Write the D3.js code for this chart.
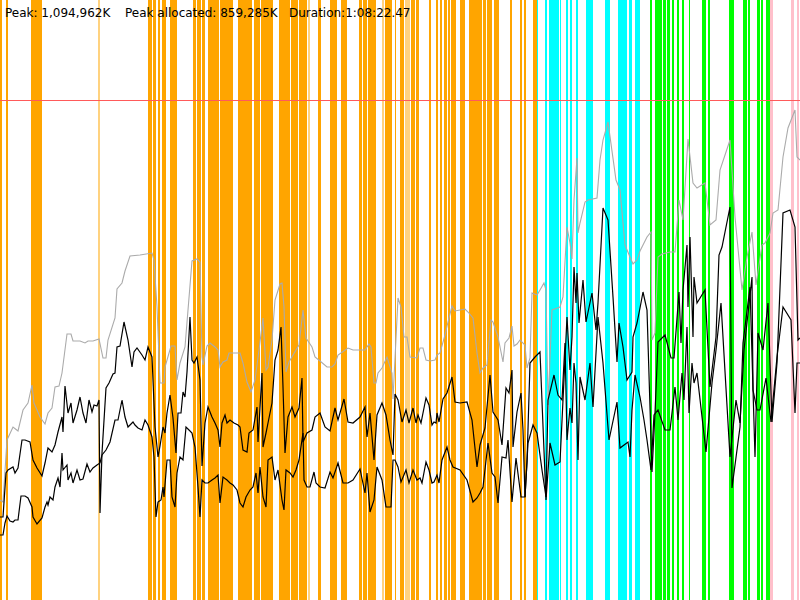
<!DOCTYPE html>
<html><head><meta charset="utf-8">
<script src="https://cdn.jsdelivr.net/npm/d3@7"></script>
<style>html,body{margin:0;padding:0;background:#fff;overflow:hidden}</style>
</head><body>
<svg id="chart" width="800" height="600"></svg>
<script>
// Time axis: 0..800 sample ticks over the whole run (Duration 1:08:22.47)
// Memory axis: units where the peak (1,094,962K) = 500
const PEAK = 500;
const summaryLabels = ["Peak: 1,094,962K", "Peak allocated: 859,285K", "Duration:1:08:22.47"];

// event intervals [start, end, kind]
const eventSpans = [
 [0,2,"o"],[6,8,"o"],[31,42,"o"],[98,100,"ol"],[148,152,"o"],[153,156,"o"],[158,160,"o"],[162,166,"o"],
 [170,177,"o"],[193,196,"o"],[197,201,"o"],[202,205,"o"],[208,219,"o"],[220,233,"o"],[238,252,"o"],
 [254,260,"o"],[261,273,"o"],[279,290,"o"],[291,298,"o"],[299,307,"o"],[308,310,"ol"],[318,321,"o"],
 [330,337,"o"],[341,347,"o"],[359,362,"o"],[363,367,"o"],[368,376,"o"],[382,384,"ol"],[385,392,"o"],
 [395,396,"o"],[400,404,"o"],[405,410,"ol"],[411,415,"o"],[416,419,"o"],[429,431,"o"],[436,438,"o"],
 [440,442,"o"],[444,447,"o"],[448,450,"o"],[451,456,"o"],[460,465,"o"],[469,482,"o"],[483,486,"o"],
 [487,492,"o"],[494,499,"o"],[510,512,"o"],[520,522,"o"],[524,526,"o"],[533,537,"o"],
 [537,538,"c"],[545,547,"c"],[549,559,"c"],[560,561,"c"],[566,568,"c"],[570,572,"c"],[576,578,"c"],
 [586,593,"c"],[605,610,"c"],[618,627,"c"],[629,632,"c"],[635,640,"c"],
 [650,652,"g"],[655,662,"g"],[663,666,"g"],[667,670,"g"],[672,674,"g"],[677,679,"g"],[682,684,"g"],
 [689,690,"g"],[702,706,"g"],[708,710,"g"],[729,734,"g"],[743,747,"g"],[748,750,"g"],[757,760,"g"],
 [761,763,"g"],[766,770,"g"],
 [770,773,"p"],[791,794,"p"],[797,799,"p"]
];

// total memory [t, value]
const totalMem = [
 [0,100],[3,98],[7,160],[13,173],[18,169],[23,190],[28,197],[32,215],[34,197],[40,183],[45,176],[48,187],
 [52,192],[55,213],[59,214],[62,227],[67,266],[71,266],[73,259],[80,259],[85,257],[88,259],[93,259],[99,261],
 [103,242],[106,242],[108,260],[115,282],[117,311],[122,317],[125,329],[130,344],[140,345],[152,347],[154,340],
 [157,293],[160,217],[164,217],[165,233],[171,254],[175,254],[177,220],[180,237],[185,253],[192,339],[197,341],
 [200,338],[202,243],[203,235],[207,254],[210,257],[215,253],[218,250],[220,233],[223,238],[227,240],[229,247],
 [240,247],[243,237],[247,218],[251,208],[255,220],[259,250],[263,282],[266,230],[268,233],[272,260],[275,300],
 [280,316],[282,317],[284,293],[286,228],[289,238],[296,250],[299,255],[303,290],[306,262],[312,253],[315,243],
 [320,239],[327,233],[332,233],[335,236],[338,245],[341,247],[348,252],[353,250],[365,250],[369,256],[371,253],
 [374,217],[376,217],[378,227],[382,232],[387,243],[392,227],[393,201],[398,302],[401,293],[404,263],[407,263],
 [410,243],[417,242],[420,252],[423,252],[426,240],[430,239],[435,240],[437,245],[440,247],[445,265],[448,278],
 [452,294],[455,289],[465,291],[468,288],[473,282],[477,247],[480,227],[483,232],[487,235],[491,280],[493,278],
 [498,263],[503,238],[505,257],[509,262],[512,274],[514,254],[517,256],[520,260],[525,255],[527,232],[530,242],
 [532,307],[537,305],[540,310],[544,317],[546,310],[548,195],[552,290],[560,293],[563,303],[567,373],[570,357],
 [572,341],[574,400],[577,442],[578,367],[580,377],[585,398],[588,400],[597,402],[600,440],[603,460],[608,478],
 [616,420],[620,410],[625,355],[630,343],[633,336],[637,340],[640,349],[647,363],[651,368],[652,260],[655,267],
 [658,343],[662,346],[670,348],[675,348],[679,400],[683,380],[688,461],[693,417],[697,412],[705,417],[710,375],
 [716,380],[720,430],[730,460],[735,383],[742,310],[747,343],[752,368],[756,315],[762,355],[765,357],[770,367],
 [773,387],[778,390],[783,443],[788,472],[795,490],[797,443],[800,440]
];

// allocated memory [t, value]
const allocMem = [
 [0,83],[3,83],[6,127],[8,130],[13,133],[15,127],[18,132],[22,160],[25,160],[30,158],[33,140],[37,132],[42,124],
 [45,137],[48,152],[52,148],[55,155],[58,168],[62,183],[63,168],[65,214],[68,187],[71,197],[73,177],[77,190],
 [80,203],[83,187],[86,177],[89,200],[92,188],[94,195],[97,194],[99,200],[100,87],[102,147],[106,212],[109,217],
 [113,226],[115,227],[117,253],[120,254],[124,278],[128,260],[132,233],[134,248],[137,252],[142,245],[145,240],
 [148,253],[152,243],[155,173],[158,143],[160,154],[163,173],[165,167],[167,187],[170,205],[173,182],[176,147],
 [178,187],[181,187],[183,208],[185,203],[187,228],[190,283],[192,240],[194,237],[197,243],[199,228],[200,220],
 [202,134],[205,177],[208,193],[212,183],[215,177],[218,170],[220,153],[222,177],[225,185],[227,177],[230,180],
 [234,177],[238,175],[240,173],[243,150],[247,148],[249,167],[253,170],[257,193],[258,158],[262,227],[263,153],
 [266,167],[268,177],[272,197],[275,240],[278,250],[281,273],[283,213],[285,147],[288,183],[292,193],[295,183],
 [299,192],[302,222],[303,158],[307,167],[312,170],[315,183],[320,187],[325,173],[330,169],[335,192],[338,180],
 [344,201],[348,178],[353,177],[360,183],[365,193],[367,163],[370,187],[374,140],[377,185],[382,197],[386,185],
 [390,160],[393,145],[395,206],[398,200],[402,178],[406,190],[409,177],[413,192],[416,177],[418,185],[421,177],
 [426,202],[429,195],[432,175],[434,178],[436,177],[437,187],[439,178],[443,201],[447,207],[452,223],[455,198],
 [460,197],[467,198],[472,180],[477,133],[480,155],[485,172],[490,225],[493,188],[498,180],[502,155],[506,212],
 [509,207],[512,230],[513,153],[517,188],[521,207],[523,170],[525,103],[527,138],[530,237],[535,243],[540,248],
 [546,100],[550,157],[555,135],[560,138],[563,200],[567,283],[570,230],[572,263],[574,333],[576,297],[577,327],
 [579,277],[583,320],[586,278],[592,307],[596,270],[598,297],[603,392],[608,380],[613,303],[617,238],[619,277],
 [623,253],[627,220],[632,228],[633,263],[637,277],[640,292],[643,308],[647,290],[652,128],[655,187],[658,258],
 [665,265],[671,242],[674,242],[679,308],[681,257],[683,310],[687,355],[688,293],[690,363],[693,263],[694,323],
 [697,297],[705,310],[710,213],[716,263],[719,345],[722,353],[730,393],[732,112],[740,173],[743,257],[750,313],
 [755,143],[758,267],[763,250],[768,297],[772,178],[777,237],[783,387],[790,390],[795,373],[798,260],[800,262]
];

// in-use memory [t, value]
const usedMem = [
 [0,65],[3,65],[5,77],[7,84],[10,79],[13,78],[15,80],[18,80],[21,104],[25,104],[28,102],[32,93],[33,83],[37,76],
 [42,82],[45,93],[47,98],[48,95],[50,103],[53,100],[55,113],[58,122],[60,113],[62,147],[63,130],[67,135],[68,120],
 [71,127],[73,117],[77,130],[80,120],[83,121],[87,136],[90,128],[93,132],[97,135],[100,137],[102,145],[106,150],
 [110,158],[115,180],[118,180],[122,200],[125,183],[128,173],[133,178],[135,175],[138,172],[142,170],[145,180],
 [148,175],[152,163],[154,143],[156,83],[158,98],[161,100],[163,113],[164,103],[167,140],[170,140],[172,103],
 [175,93],[177,127],[180,143],[183,140],[186,173],[189,170],[192,167],[195,153],[198,113],[200,83],[202,120],
 [205,117],[208,117],[212,120],[215,122],[218,125],[220,97],[223,123],[227,120],[230,117],[233,115],[237,110],
 [240,97],[243,93],[246,103],[250,110],[253,113],[256,127],[258,107],[260,133],[263,103],[266,93],[268,140],
 [272,143],[275,120],[278,130],[282,100],[284,90],[286,130],[290,127],[293,123],[296,130],[299,140],[303,167],
 [304,120],[307,113],[310,113],[314,128],[316,117],[320,113],[325,112],[330,128],[333,122],[338,137],[343,117],
 [348,117],[353,120],[360,131],[365,107],[367,127],[370,88],[374,100],[377,133],[382,120],[386,93],[391,93],
 [393,140],[395,140],[398,133],[401,118],[406,130],[409,117],[413,130],[417,120],[420,122],[422,117],[426,138],
 [429,130],[432,117],[434,118],[437,125],[439,117],[442,140],[447,153],[450,140],[453,133],[460,130],[467,120],
 [473,98],[477,102],[480,107],[483,113],[488,157],[492,127],[495,123],[498,97],[502,143],[506,142],[508,160],
 [512,98],[516,142],[521,103],[525,103],[528,157],[533,175],[537,167],[542,130],[546,103],[548,200],[554,225],
 [558,205],[562,200],[565,257],[567,160],[570,192],[572,177],[574,237],[576,217],[578,140],[580,223],[585,200],
 [590,237],[593,193],[598,283],[603,237],[609,160],[617,198],[620,152],[628,158],[630,143],[632,190],[635,225],
 [640,203],[644,180],[647,160],[651,130],[654,185],[658,190],[665,170],[670,170],[675,213],[678,180],[682,227],
 [684,200],[687,273],[689,187],[692,237],[694,217],[697,227],[706,148],[712,217],[716,250],[721,297],[730,143],
 [736,200],[740,177],[744,250],[752,323],[753,210],[757,190],[760,190],[766,222],[771,178],[777,243],[783,293],
 [791,280],[795,187],[797,237],[800,237]
];

const kindColor = {o:"#ffa500", ol:"#ffd27f", c:"#00ffff", g:"#00ff00", p:"#ffc0cb"};

const W = 800, H = 600;
const svg = d3.select("#chart");
const x = d3.scaleLinear().domain([0, 800]).range([0, W]);
const y = d3.scaleLinear().domain([0, 600]).range([H, 0]);

svg.append("g").selectAll("rect").data(eventSpans).join("rect")
  .attr("x", d => x(d[0])).attr("width", d => Math.max(1, x(d[1]) - x(d[0])))
  .attr("y", 0).attr("height", H)
  .attr("fill", d => kindColor[d[2]]);

svg.append("line").attr("x1", 0).attr("x2", W)
  .attr("y1", y(PEAK) + 0.5).attr("y2", y(PEAK) + 0.5)
  .attr("stroke", "#ff5a5a").attr("stroke-width", 1);

const line = d3.line().x(d => x(d[0])).y(d => y(d[1]));
svg.append("path").datum(totalMem).attr("d", line)
  .attr("fill", "none").attr("stroke", "#ababab").attr("stroke-width", 1.1);
svg.append("path").datum(allocMem).attr("d", line)
  .attr("fill", "none").attr("stroke", "#000").attr("stroke-width", 1.2);
svg.append("path").datum(usedMem).attr("d", line)
  .attr("fill", "none").attr("stroke", "#000").attr("stroke-width", 1.2);

const labelX = [5, 125, 289];
svg.append("g").selectAll("text").data(summaryLabels).join("text")
  .attr("x", (d, i) => labelX[i]).attr("y", 17)
  .attr("font-family", "DejaVu Sans, sans-serif").attr("font-size", 12)
  .attr("fill", "#000").text(d => d);
</script>
</body></html>
